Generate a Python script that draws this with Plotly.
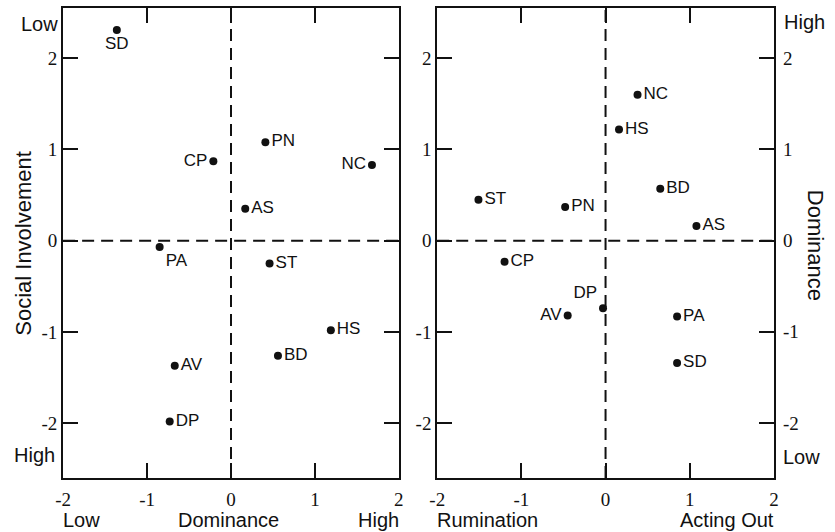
import plotly.graph_objects as go

# ---- data ----
labels_left = ["SD", "CP", "PN", "NC", "AS", "PA", "ST", "HS", "BD", "AV", "DP"]
dominance_left = [-1.36, -0.21, 0.41, 1.68, 0.17, -0.85, 0.46, 1.19, 0.56, -0.67, -0.73]
social_involvement = [2.31, 0.87, 1.08, 0.83, 0.35, -0.07, -0.25, -0.98, -1.26, -1.37, -1.98]
textpos_left = ["bottom center", "middle left", "middle right", "middle left", "middle right",
                "bottom right", "middle right", "middle right", "middle right", "middle right",
                "middle right"]

labels_right = ["NC", "HS", "BD", "AS", "ST", "PN", "CP", "AV", "DP", "PA", "SD"]
acting_out = [0.38, 0.16, 0.65, 1.08, -1.51, -0.48, -1.20, -0.45, -0.03, 0.85, 0.85]
dominance_right = [1.60, 1.22, 0.57, 0.16, 0.45, 0.37, -0.23, -0.82, -0.74, -0.83, -1.34]
textpos_right = ["middle right", "middle right", "middle right", "middle right", "middle right",
                 "middle right", "middle right", "middle left", "top left", "middle right",
                 "middle right"]

tick_vals = [-2, -1, 0, 1, 2]
tick_text = ["-2", "-1", "0", "1", "2"]
x_range = [-2, 2]
y_range = [-2.6, 2.55]

W, H = 835, 532
SANS = "Liberation Sans, Arial, sans-serif"
PT = dict(family=SANS, size=17, color="#111")
TXT = dict(family=SANS, size=20, color="#111")
VTXT = dict(family=SANS, size=22, color="#111")
NUM = dict(family="Liberation Serif, Times New Roman, serif", size=19, color="#111")

fig = go.Figure()
fig.add_trace(go.Scatter(
    x=dominance_left, y=social_involvement, text=labels_left, mode="markers+text",
    textposition=textpos_left, marker=dict(size=8, color="#111"),
    textfont=PT, xaxis="x", yaxis="y", showlegend=False, hoverinfo="skip"))
fig.add_trace(go.Scatter(
    x=acting_out, y=dominance_right, text=labels_right, mode="markers+text",
    textposition=textpos_right, marker=dict(size=8, color="#111"),
    textfont=PT, xaxis="x2", yaxis="y2", showlegend=False, hoverinfo="skip"))

ax_common = dict(tickvals=tick_vals, ticktext=tick_text, ticks="inside",
                 ticklen=15, tickwidth=2, tickcolor="#111", showline=True, linewidth=2,
                 linecolor="#111", mirror="allticks", showgrid=False, zeroline=False,
                 tickfont=NUM, fixedrange=True)

ydom = [1 - 478 / H, 1 - 8 / H]
fig.update_layout(
    width=W, height=H, margin=dict(l=0, r=0, t=0, b=0),
    plot_bgcolor="white", paper_bgcolor="white",
    xaxis=dict(ax_common, range=x_range, domain=[56 / W, 397 / W], anchor="y",
               ticklabelstandoff=3),
    yaxis=dict(ax_common, range=y_range, domain=ydom, anchor="x"),
    xaxis2=dict(ax_common, range=x_range, domain=[436 / W, 778 / W], anchor="y2",
                ticklabelstandoff=3),
    yaxis2=dict(ax_common, range=y_range, domain=ydom, anchor="x2"),
)

# dashed zero lines
for xr, yr in [("x", "y"), ("x2", "y2")]:
    fig.add_shape(type="line", xref=xr, yref=yr + " domain", x0=0, x1=0, y0=0, y1=1,
                  line=dict(color="#111", width=2, dash="12px,7px"))
    fig.add_shape(type="line", xref=xr + " domain", yref=yr, x0=0, x1=1, y0=0, y1=0,
                  line=dict(color="#111", width=2, dash="12px,7px"))

# right-side tick labels of the right panel
for v, t in zip(tick_vals, tick_text):
    fig.add_annotation(x=1, xref="x2 domain", y=v, yref="y2", text=t, showarrow=False,
                       xanchor="left", xshift=7, font=NUM)

ann = [
    # left panel
    dict(text="Low", x=53 / W, y=1 - 24 / H, xanchor="right", font=TXT),
    dict(text="High", x=50 / W, y=1 - 455 / H, xanchor="right", font=TXT),
    dict(text="Social Involvement", x=15 / W, y=1 - 243 / H, xanchor="center",
         textangle=-90, font=VTXT),
    dict(text="Low", x=54 / W, y=1 - 520 / H, xanchor="left", font=TXT),
    dict(text="Dominance", x=224 / W, y=1 - 520 / H, xanchor="center", font=TXT),
    dict(text="High", x=399 / W, y=1 - 520 / H, xanchor="right", font=TXT),
    # right panel
    dict(text="High", x=786 / W, y=1 - 22 / H, xanchor="left", font=TXT),
    dict(text="Low", x=785 / W, y=1 - 457 / H, xanchor="left", font=TXT),
    dict(text="Dominance", x=821 / W, y=1 - 245 / H, xanchor="center", textangle=90,
         font=VTXT),
    dict(text="Rumination", x=434 / W, y=1 - 520 / H, xanchor="left", font=TXT),
    dict(text="Acting Out", x=780 / W, y=1 - 520 / H, xanchor="right", font=TXT),
]
for a in ann:
    fig.add_annotation(xref="paper", yref="paper", showarrow=False, yanchor="middle", **a)

fig.write_html("out.html")
